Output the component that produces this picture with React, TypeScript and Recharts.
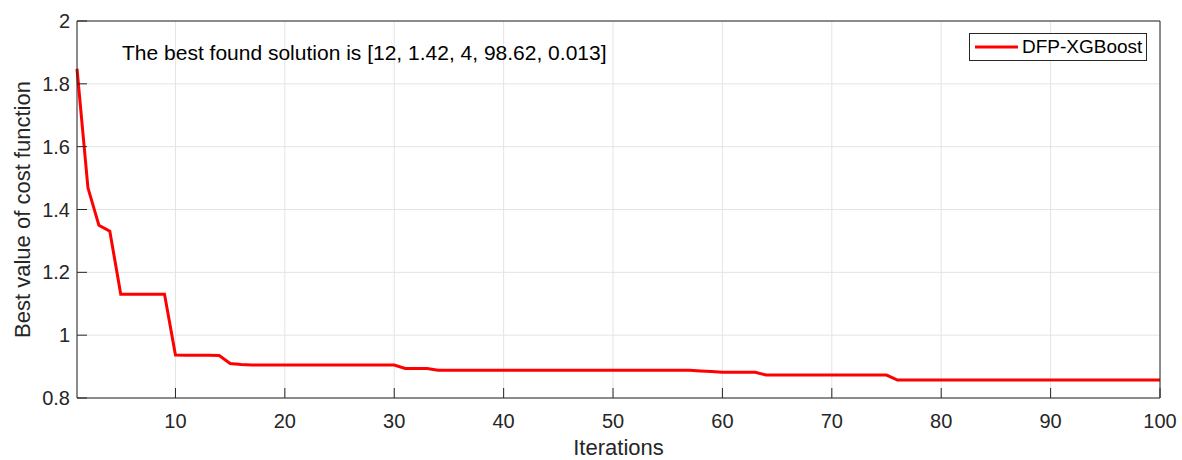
import { LineChart, Line, XAxis, YAxis, CartesianGrid, Legend } from "recharts";

// best cost after each iteration (iterations 1..100)
const costValues = [
  1.848, 1.469, 1.35, 1.331, 1.13, 1.13, 1.13, 1.13, 1.13, 0.937,
  0.936, 0.936, 0.936, 0.935, 0.91, 0.907, 0.905, 0.905, 0.905, 0.905,
  0.905, 0.905, 0.905, 0.905, 0.905, 0.905, 0.905, 0.905, 0.905, 0.905,
  0.894, 0.894, 0.894, 0.888, 0.888, 0.888, 0.888, 0.888, 0.888, 0.888,
  0.888, 0.888, 0.888, 0.888, 0.888, 0.888, 0.888, 0.888, 0.888, 0.888,
  0.888, 0.888, 0.888, 0.888, 0.888, 0.888, 0.888, 0.886, 0.884, 0.882,
  0.882, 0.882, 0.882, 0.873, 0.873, 0.873, 0.873, 0.873, 0.873, 0.873,
  0.873, 0.873, 0.873, 0.873, 0.873, 0.857, 0.857, 0.857, 0.857, 0.857,
  0.857, 0.857, 0.857, 0.857, 0.857, 0.857, 0.857, 0.857, 0.857, 0.857,
  0.857, 0.857, 0.857, 0.857, 0.857, 0.857, 0.857, 0.857, 0.857, 0.857,
];

const xTicks = [10, 20, 30, 40, 50, 60, 70, 80, 90, 100];
const yTicks = [0.8, 1, 1.2, 1.4, 1.6, 1.8, 2];
const seriesName = "DFP-XGBoost";
const bestSolution = ["12", "1.42", "4", "98.62", "0.013"];

const data = costValues.map((cost, i) => ({ iteration: i + 1, cost }));

const FONT = '"Liberation Sans", Arial, sans-serif';
const AXIS = "#262626";

function LegendBox() {
  return (
    <div
      style={{
        width: 176,
        height: 26,
        border: `1px solid ${AXIS}`,
        background: "#fff",
        display: "flex",
        alignItems: "center",
        fontFamily: FONT,
        fontSize: 19,
        color: "#000",
      }}
    >
      <svg width={52} height={26}>
        <line x1={5} y1={13} x2={48} y2={13} stroke="#ff0000" strokeWidth={3} />
      </svg>
      <span style={{ marginLeft: 0 }}>{seriesName}</span>
    </div>
  );
}

export default function App() {
  return (
    <div style={{ position: "absolute", left: 0, top: 0, width: 1182, height: 460, background: "#fff", fontFamily: FONT }}>
      <LineChart width={1182} height={460} data={data} margin={{ top: 0, right: 0, bottom: 0, left: 0 }}>
        <CartesianGrid stroke="#e4e4e4" strokeWidth={1} />
        <XAxis
          dataKey="iteration"
          type="number"
          domain={[1, 100]}
          ticks={xTicks}
          height={62}
          tickSize={-10}
          tickMargin={26}
          axisLine={{ stroke: AXIS }}
          tickLine={{ stroke: AXIS }}
          tick={{ fill: AXIS, fontSize: 20 }}
          label={{ value: "Iterations", position: "insideBottom", offset: 5, style: { fontSize: 22, fill: AXIS } }}
        />
        <XAxis
          xAxisId="top"
          orientation="top"
          type="number"
          domain={[1, 100]}
          ticks={xTicks}
          height={21}
          tickSize={-10}
          axisLine={{ stroke: AXIS }}
          tickLine={{ stroke: AXIS }}
          tick={false}
        />
        <YAxis
          type="number"
          domain={[0.8, 2]}
          ticks={yTicks}
          width={77}
          tickSize={-10}
          tickMargin={17}
          axisLine={{ stroke: AXIS }}
          tickLine={{ stroke: AXIS }}
          tick={{ fill: AXIS, fontSize: 20 }}
          label={{
            value: "Best value of cost function",
            angle: -90,
            position: "insideLeft",
            offset: 22,
            style: { fontSize: 22, fill: AXIS, textAnchor: "middle" },
          }}
        />
        <YAxis
          yAxisId="right"
          orientation="right"
          type="number"
          domain={[0.8, 2]}
          ticks={yTicks}
          width={22}
          tickSize={-10}
          axisLine={{ stroke: AXIS }}
          tickLine={{ stroke: AXIS }}
          tick={false}
        />
        <Legend
          layout="horizontal"
          verticalAlign="middle"
          align="center"
          content={() => <LegendBox />}
          wrapperStyle={{ left: 969, top: 33, width: 178 }}
        />
        <Line
          type="linear"
          dataKey="cost"
          name={seriesName}
          stroke="#ff0000"
          strokeWidth={3}
          dot={false}
          isAnimationActive={false}
        />
      </LineChart>
      <div
        style={{
          position: "absolute",
          left: 122,
          top: 42,
          fontSize: 21,
          lineHeight: "21px",
          color: "#000",
          whiteSpace: "nowrap",
        }}
      >
        {`The best found solution is [${bestSolution.join(", ")}]`}
      </div>
    </div>
  );
}
